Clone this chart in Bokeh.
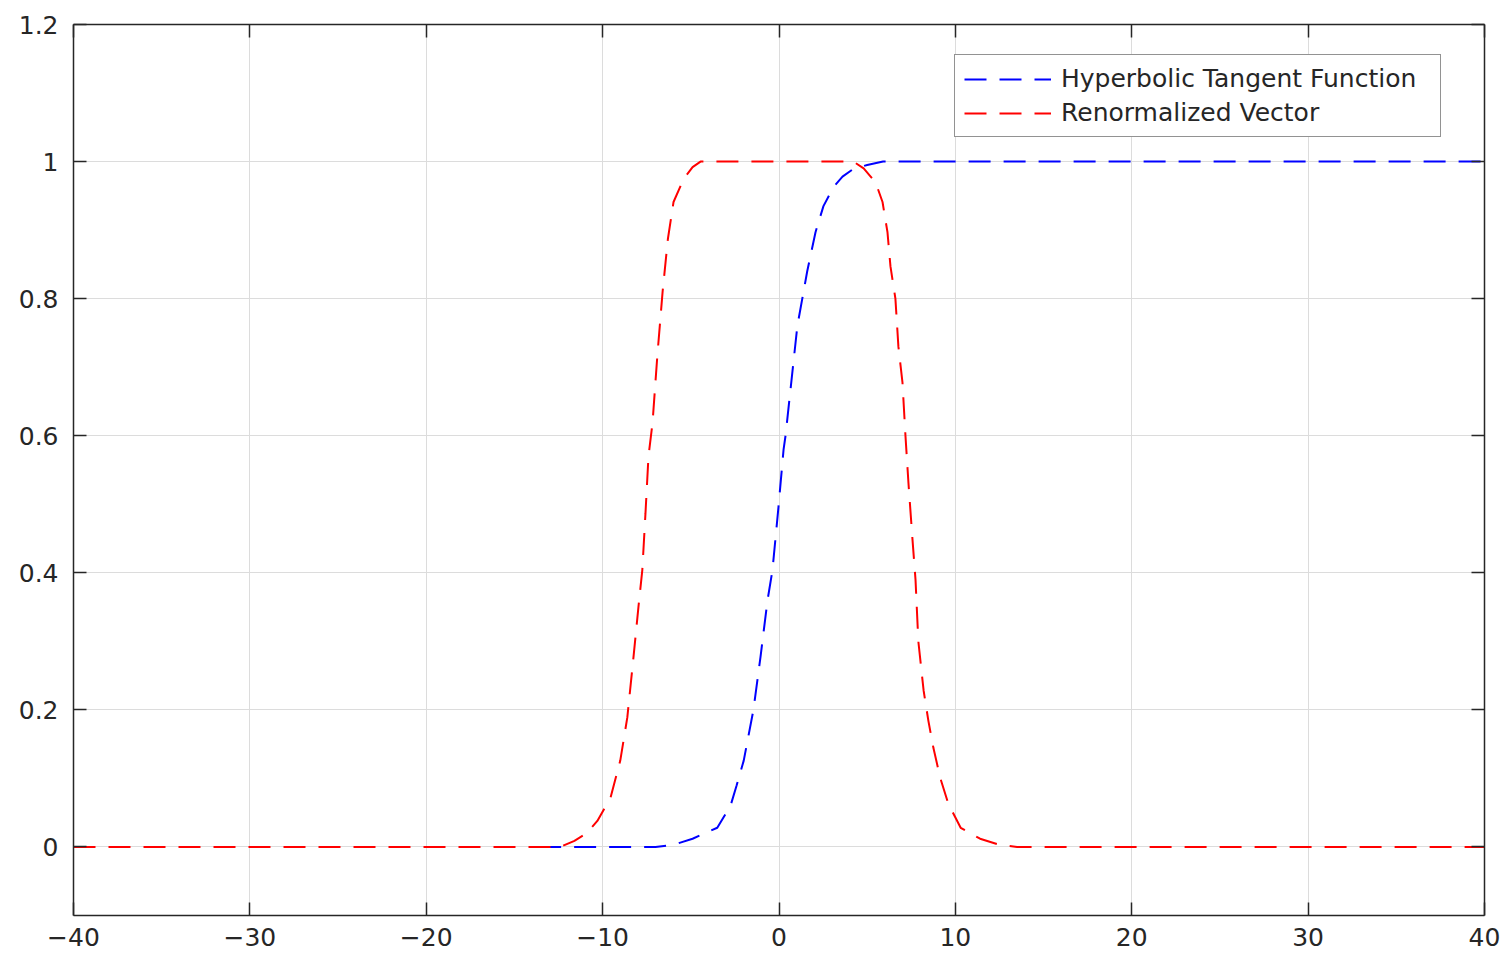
from bokeh.plotting import figure
from bokeh.models import LinearAxis, FixedTicker, CustomJSTickFormatter, Range1d
from bokeh.embed import file_html
from bokeh.resources import INLINE

# Hyperbolic Tangent Function
tanh_x = [-13.6, -7.0, -6.0, -4.9, -4.2, -3.5, -2.75, -2.4, -2.0, -1.45, -1.05, -0.65,
          -0.37, -0.03, 0.26, 0.37, 0.65, 1.04, 1.6, 2.07, 2.52, 3.09, 3.6, 4.2, 5.0, 5.9, 40.0]
tanh_y = [0.0, 0.0, 0.003, 0.012, 0.02, 0.028, 0.06, 0.09, 0.126, 0.2, 0.277, 0.36,
          0.404, 0.496, 0.58, 0.6, 0.667, 0.76, 0.84, 0.897, 0.935, 0.963, 0.978, 0.989, 0.995, 1.0, 1.0]

# Renormalized Vector
renorm_x = [-40.0, -12.4, -11.6, -10.9, -10.3, -9.55, -9.0, -8.6, -8.25, -7.97, -7.75, -7.57,
            -7.4, -7.17, -6.9, -6.6, -6.3, -5.98, -5.4, -4.9, -4.45, 4.22, 4.8, 5.47, 5.87,
            6.15, 6.32, 6.6, 6.77, 7.0, 7.17, 7.34, 7.57, 7.74, 7.9, 8.2, 8.47, 8.75, 9.15,
            9.6, 10.3, 11.4, 12.5, 13.5, 40.0]
renorm_y = [0.0, 0.0, 0.009, 0.02, 0.038, 0.072, 0.126, 0.189, 0.277, 0.35, 0.404, 0.487,
            0.57, 0.619, 0.716, 0.81, 0.887, 0.941, 0.975, 0.992, 1.0, 1.0, 0.99, 0.97, 0.941,
            0.897, 0.847, 0.8, 0.73, 0.678, 0.6, 0.531, 0.448, 0.39, 0.3, 0.228, 0.184, 0.145, 0.1,
            0.063, 0.028, 0.012, 0.003, 0.0, 0.0]

x_ticks = [-40, -30, -20, -10, 0, 10, 20, 30, 40]
y_ticks = [0, 0.2, 0.4, 0.6, 0.8, 1.0, 1.2]

AX = "#262626"
FONT = "DejaVu Sans"
TICK_FS = "25px"
LEG_FS = "25px"

p = figure(width=1500, height=958, output_backend="svg", toolbar_location=None,
           x_range=Range1d(-40, 40), y_range=Range1d(-0.1, 1.2),
           min_border_left=73, min_border_right=16, min_border_top=24, min_border_bottom=43,
           x_axis_location=None, y_axis_location=None)
p.outline_line_color = None
p.background_fill_color = "white"
p.border_fill_color = "white"

xfmt = CustomJSTickFormatter(code="return tick < 0 ? '\\u2212' + Math.abs(tick) : '' + tick;")
yfmt = CustomJSTickFormatter(code="return tick.toFixed(1).replace(/\\.0$/, '');")
nofmt = CustomJSTickFormatter(code="return '';")

def style(ax, show_labels, standoff=12):
    ax.axis_line_color = AX
    ax.axis_line_width = 1.5
    ax.major_tick_line_color = AX
    ax.major_tick_line_width = 1.5
    ax.major_tick_in = 13
    ax.major_tick_out = 0
    ax.minor_tick_line_color = None
    ax.major_label_text_font = FONT
    ax.major_label_text_color = AX
    ax.major_label_text_font_size = TICK_FS
    ax.major_label_standoff = standoff if show_labels else 0

xb = LinearAxis(ticker=FixedTicker(ticks=x_ticks), formatter=xfmt)
style(xb, True, 12)
yl = LinearAxis(ticker=FixedTicker(ticks=y_ticks), formatter=yfmt)
style(yl, True, 15)
xt = LinearAxis(ticker=FixedTicker(ticks=x_ticks), formatter=nofmt)
style(xt, False)
yr = LinearAxis(ticker=FixedTicker(ticks=y_ticks), formatter=nofmt)
style(yr, False)

p.add_layout(xb, "below")
p.add_layout(yl, "left")
p.add_layout(xt, "above")
p.add_layout(yr, "right")

p.xgrid.ticker = FixedTicker(ticks=x_ticks)
p.ygrid.ticker = FixedTicker(ticks=y_ticks)
for g in (p.xgrid, p.ygrid):
    g.grid_line_color = "#dcdcdc"
    g.grid_line_width = 1

p.line(tanh_x, tanh_y, line_color="#0000ff", line_width=2, line_dash="22 13",
       legend_label="Hyperbolic Tangent Function")
p.line(renorm_x, renorm_y, line_color="#ff0000", line_width=2, line_dash="22 13",
       legend_label="Renormalized Vector")

lg = p.legend[0]
lg.location = (881, 778)
lg.border_line_color = AX
lg.border_line_width = 1.5
lg.background_fill_color = "white"
lg.background_fill_alpha = 1
lg.label_text_font = FONT
lg.label_text_font_size = LEG_FS
lg.label_text_color = AX
lg.glyph_width = 87
lg.glyph_height = 26
lg.label_height = 26
lg.label_width = 370
lg.spacing = 5
lg.padding = 9
lg.margin = 0
lg.label_standoff = 10

open("out.html", "w").write(file_html(p, INLINE))
